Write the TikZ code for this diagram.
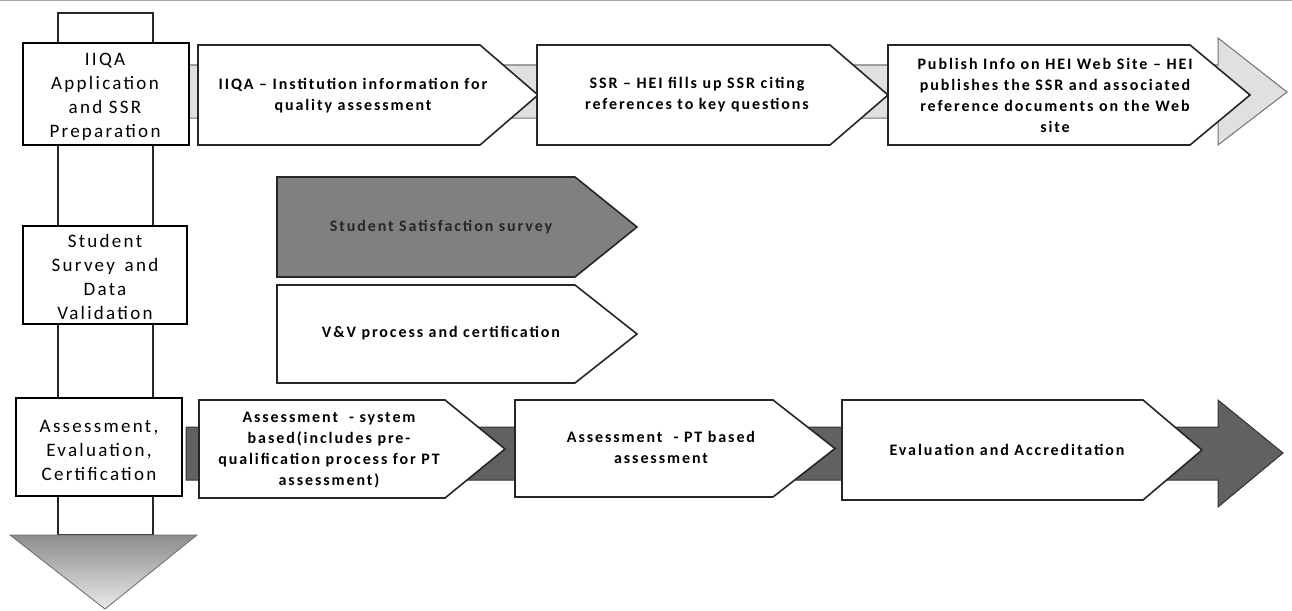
\documentclass[tikz,border=0pt]{standalone}
\usepackage{fontspec}
\newfontfamily\boxfont[LetterSpace=12]{Carlito}
\newfontfamily\chevfont[LetterSpace=12]{Carlito}
\newcommand\chevshape[6]{\draw[#1] (#2,#5) -- (#3,#5) -- (#4,{(#5+#6)/2}) -- (#3,#6) -- (#2,#6) -- cycle;}
\begin{document}
\begin{tikzpicture}[x=1pt,y=-1pt,
  chev/.style={draw=black!85, line width=1.6pt, fill=white},
  darkchev/.style={draw=black!85, line width=1.6pt, fill=black!50},
  lbox/.style={draw=black, line width=2.2pt, fill=white},
  ltxt/.style={font=\boxfont\fontsize{19}{24}\selectfont, align=center, inner sep=0pt},
  ctxt/.style={font=\chevfont\bfseries\fontsize{16}{21}\selectfont, align=center, inner sep=0pt},
]
\useasboundingbox (0,0) rectangle (1292,610);
\fill[white] (0,0) rectangle (1292,610);
\draw[black!35, line width=1pt] (0,0.8) -- (1292,0.8);

% vertical process arrow
\draw[black!85, line width=1.3pt, fill=white] (58,13) rectangle (153,535);
\shade[top color=black!45, bottom color=black!8] (10,535) -- (197,535) -- (105,609) -- cycle;
\draw[black!55, line width=0.9pt] (10,535) -- (197,535) -- (105,609) -- cycle;

% top band (light)
\draw[fill=black!12, draw=black!55, line width=1pt] (189,65) -- (1218,65) -- (1218,38) -- (1287,92) -- (1218,145) -- (1218,118) -- (189,118) -- cycle;
% bottom band (dark)
\draw[fill=black!62, draw=black!80, line width=1pt] (186,427) -- (1218,427) -- (1218,400) -- (1283,453) -- (1218,507) -- (1218,480) -- (186,480) -- cycle;

% left boxes
\draw[lbox] (23,43) rectangle (189,145);
\draw[lbox] (23,226) rectangle (187,324);
\draw[lbox] (16,398) rectangle (182,496);
\node[ltxt] (b1) at (105,97) {IIQA\\Application\\and SSR\\Preparation};
\node[ltxt] (b2) at (105,277) {Student\\Survey \,and\\Data\\Validation};
\node[ltxt] (b3) at (99,450) {Assessment,\\Evaluation,\\Certification};

% top row chevrons
\chevshape{chev}{198}{480}{538}{45}{145}
\chevshape{chev}{537}{830}{888}{45}{145}
\chevshape{chev}{888}{1190}{1250}{45}{145}
\node[ctxt] (c1) at (353,96) {IIQA – Institution information for\\quality assessment};
\node[ctxt] (c2) at (697,95) {SSR – HEI fills up SSR citing\\references to key questions};
\node[ctxt] (c3) at (1055,95) {Publish Info on HEI Web Site – HEI\\publishes the SSR and associated\\reference documents on the Web\\site};

% middle chevrons
\chevshape{darkchev}{277}{575}{637}{177}{277}
\chevshape{chev}{277}{575}{637}{285}{383}
\node[ctxt, text=black!85] (m1) at (441,227) {Student Satisfaction survey};
\node[ctxt] (m2) at (441,333) {V\&V process and certification};

% bottom row chevrons
\chevshape{chev}{199}{445}{505}{400}{498}
\chevshape{chev}{515}{773}{835}{400}{497}
\chevshape{chev}{842}{1143}{1202}{400}{500}
\node[ctxt] (d1) at (329,450) {Assessment \ - system\\based(includes pre-\\qualification process for PT\\assessment)};
\node[ctxt] (d2) at (661,447) {Assessment \ - PT based\\assessment};
\node[ctxt] (d3) at (1007,450) {Evaluation and Accreditation};
\end{tikzpicture}
\end{document}
